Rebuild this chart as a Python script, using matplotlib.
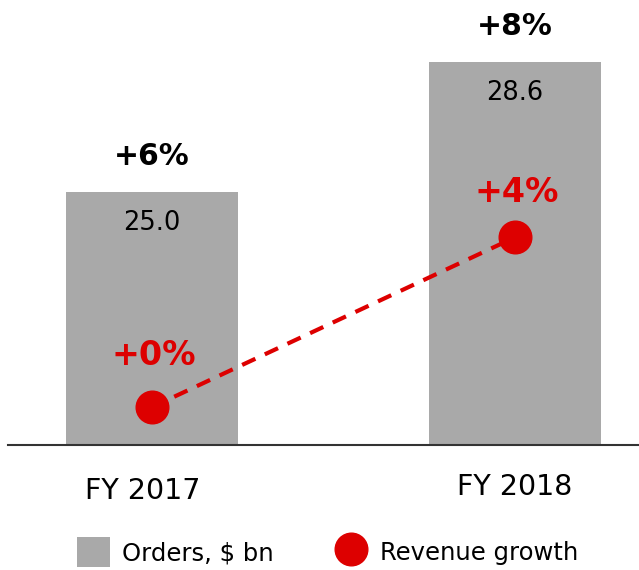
import matplotlib.pyplot as plt
import matplotlib.transforms as mtransforms
from matplotlib.patches import Patch
from matplotlib.lines import Line2D

plt.rcParams['font.family'] = ['DejaVu Sans']

years = ["FY 2017", "FY 2018"]
orders = [25.0, 28.6]            # $ bn
orders_growth = ["+6%", "+8%"]
revenue_growth = [0, 4]          # %

GREY = "#A9A9A9"
RED = "#DD0000"

W, H = 639, 570
fig = plt.figure(figsize=(W / 100, H / 100), dpi=100)
ax = fig.add_axes([8 / W, 1 - 445 / H, 631 / W, 435 / H])
ax2 = ax.twinx()

x = list(range(len(years)))

# ----- bars -----
ax.bar(x, orders, width=0.473, color=GREY, zorder=1)
ax.set_xlim(-0.395, 1.341)
ax.set_ylim(18.0, 30.05)

for xi, v, g in zip(x, orders, orders_growth):
    ax.annotate(f"{v:.1f}", (xi, v), xytext=(0, -31), textcoords="offset pixels",
                ha="center", va="center", fontsize=18.5, color="black")
    ax.annotate(g, (xi, v), xytext=(0, 36), textcoords="offset pixels",
                ha="center", va="center", fontsize=21.5, fontweight="bold", color="black")

# ----- revenue growth line -----
ax2.plot(x, revenue_growth, color=RED, lw=3, dashes=(3.5, 2.5), zorder=3)
ax2.plot(x, revenue_growth, "o", color=RED, ms=23.5, zorder=4)
ax2.set_ylim(-0.887, 9.348)

offsets = [52, 45]
for xi, r, off in zip(x, revenue_growth, offsets):
    ax2.annotate(f"+{r}%", (xi, r), xytext=(2, off), textcoords="offset pixels",
                 ha="center", va="center", fontsize=24, fontweight="bold", color=RED)

# ----- axes styling -----
for a in (ax, ax2):
    for s in ("top", "right", "left"):
        a.spines[s].set_visible(False)
    a.set_yticks([])
ax2.spines["bottom"].set_visible(False)
ax.spines["bottom"].set_color("#333333")
ax.spines["bottom"].set_linewidth(1.5)
ax.set_xticks(x)
ax.set_xticklabels(years, fontsize=20.5)
ax.tick_params(axis="x", length=0, pad=20)

# first label sits a little left of its bar and lower
shift = mtransforms.ScaledTranslation(-9 / 100, -4 / 100, fig.dpi_scale_trans)
lbl = ax.get_xticklabels()[0]
lbl.set_transform(lbl.get_transform() + shift)

# ----- legend -----
handles = [Patch(facecolor=GREY, edgecolor="none"),
           Line2D([], [], marker="o", color=RED, ls="none", ms=23.5)]
fig.legend(handles, ["Orders, $ bn", "Revenue growth"], loc="center",
           bbox_to_anchor=(0.5126, 1 - 552 / H), ncol=2, frameon=False,
           fontsize=17.5, handlelength=1.36, handleheight=1.5,
           handletextpad=0.5, columnspacing=2.5)

fig.savefig("out.png", dpi=100)
